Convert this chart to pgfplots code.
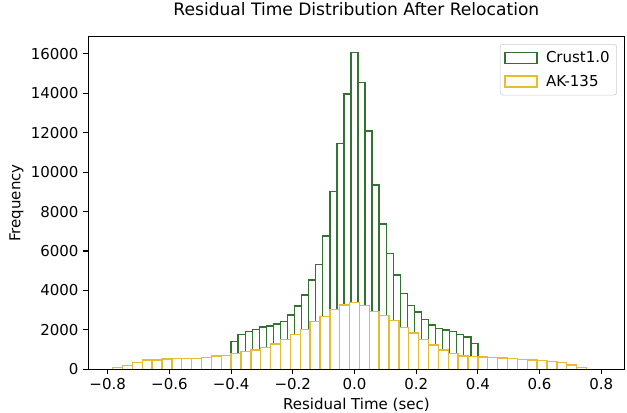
\documentclass[border=0pt]{standalone}
\usepackage{fontspec}
\setmainfont{DejaVu Sans}
\usepackage{pgfplots}
\pgfplotsset{compat=1.18}
\definecolor{cgreen}{RGB}{50,115,50}
\definecolor{cyellow}{RGB}{232,188,50}
\begin{document}
\begin{tikzpicture}
\useasboundingbox (0,0) rectangle (451.44pt,296.64pt);
\begin{axis}[
  at={(63.58pt,30.74pt)}, anchor=south west,
  scale only axis, width=386pt, height=239.6pt,
  xmin=-0.8629, xmax=0.875, ymin=0, ymax=16880,
  axis on top,
  axis line style={line width=0.8pt},
  tick pos=left, tick align=outside,
  major tick length=3.5pt,
  every tick/.style={black, line width=0.8pt},
  scaled y ticks=false, scaled x ticks=false,
  xtick={-0.8,-0.6,-0.4,-0.2,0,0.2,0.4,0.6,0.8},
  xticklabels={−0.8,−0.6,−0.4,−0.2,0.0,0.2,0.4,0.6,0.8},
  ytick={0,2000,4000,6000,8000,10000,12000,14000,16000},
  yticklabels={0,2000,4000,6000,8000,10000,12000,14000,16000},
  ticklabel style={font=\fontsize{10.8}{13}\selectfont},
  xticklabel style={anchor=base, yshift=-11pt},
  yticklabel style={anchor=east},
  xlabel={Residual Time (sec)},
  ylabel={Frequency},
  label style={font=\fontsize{10.8}{13}\selectfont},
  xlabel style={at={(axis description cs:0.5,-0.1193)}, anchor=base},
  ylabel style={at={(axis description cs:-0.1265,0.5)}, anchor=base},
  title={Residual Time Distribution After Relocation},
  title style={at={(axis description cs:0.5,1.0376)}, anchor=base, font=\fontsize{12.3}{15}\selectfont},
  legend style={at={(1,1)}, anchor=north east, xshift=-5.4pt, yshift=-5.4pt,
    draw=black!20, rounded corners=2pt, fill=white,
    font=\fontsize{10.8}{13}\selectfont, row sep=3.5pt,
    inner xsep=3pt, inner ysep=3pt,
    /tikz/every odd column/.append style={column sep=4pt}},
  legend cell align=left,
]
\addplot[ybar, bar width=0.0228571, bar shift=0pt, draw=cgreen, fill=white, line width=1pt,
  legend image code/.code={\draw[sharp corners, cgreen, fill=white, line width=1pt] (0pt,-4pt) rectangle (23pt,4pt);}]
coordinates {
(-0.388571,1420) (-0.365714,1780) (-0.342857,1930) (-0.32,2030) (-0.297143,2150)
(-0.274286,2200) (-0.251429,2300) (-0.228571,2420) (-0.205714,2755) (-0.182857,3220)
(-0.16,3770) (-0.137143,4531) (-0.114286,5330) (-0.091429,6764) (-0.068571,9014)
(-0.045714,11467) (-0.022857,13970) (0,16068) (0.022857,14563) (0.045714,12093)
(0.068571,9353) (0.091429,7374) (0.114286,5886) (0.137143,4785) (0.16,3857)
(0.182857,3229) (0.205714,2900) (0.228571,2520) (0.251429,2248) (0.274286,2060)
(0.297143,2000) (0.32,1909) (0.342857,1780) (0.365714,1640) (0.388571,1300)
};
\addlegendentry{Crust1.0}
\addplot[ybar, bar width=0.032, bar shift=0pt, draw=cyellow, fill=white, line width=1pt,
  legend image code/.code={\draw[sharp corners, cyellow, fill=cyellow!6, line width=1pt] (0pt,-4pt) rectangle (23pt,4pt);}]
coordinates {
(-0.768,100) (-0.736,183) (-0.704,340) (-0.672,470) (-0.64,475) (-0.608,530)
(-0.576,540) (-0.544,545) (-0.512,558) (-0.48,609) (-0.448,675) (-0.416,710)
(-0.384,812) (-0.352,893) (-0.32,979) (-0.288,1116) (-0.256,1284) (-0.224,1523)
(-0.192,1760) (-0.16,2028) (-0.128,2416) (-0.096,2670) (-0.064,3045) (-0.032,3263)
(0,3380) (0.032,3250) (0.064,2925) (0.096,2720) (0.128,2467) (0.16,2130)
(0.192,1840) (0.224,1522) (0.256,1233) (0.288,979) (0.32,812) (0.352,675)
(0.384,640) (0.416,620) (0.448,600) (0.48,570) (0.512,550) (0.544,510)
(0.576,475) (0.608,440) (0.64,390) (0.672,330) (0.704,220) (0.736,100)
};
\addlegendentry{AK-135}
\end{axis}
\end{tikzpicture}
\end{document}
